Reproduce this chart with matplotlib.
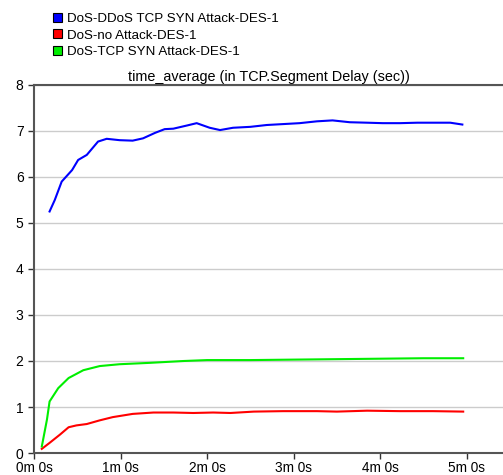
import matplotlib
matplotlib.use('Agg')
import matplotlib.pyplot as plt
from matplotlib.patches import Patch

plt.rcParams['font.family'] = ['Liberation Sans', 'DejaVu Sans']

# time in minutes, delay in seconds
ddos_t = [0.18, 0.24, 0.32, 0.44, 0.51, 0.61, 0.74, 0.84, 0.99, 1.14, 1.26, 1.40,
          1.51, 1.61, 1.77, 1.88, 2.03, 2.15, 2.30, 2.50, 2.69, 2.88, 3.07, 3.27,
          3.45, 3.65, 3.85, 4.03, 4.23, 4.43, 4.61, 4.81, 4.95]
ddos_v = [5.25, 5.5, 5.9, 6.15, 6.37, 6.48, 6.77, 6.83, 6.80, 6.79, 6.84, 6.96,
          7.04, 7.05, 7.12, 7.17, 7.07, 7.02, 7.07, 7.09, 7.13, 7.15, 7.17, 7.21,
          7.23, 7.19, 7.18, 7.17, 7.17, 7.18, 7.18, 7.18, 7.14]

noatk_t = [0.09, 0.18, 0.30, 0.40, 0.49, 0.61, 0.76, 0.91, 1.14, 1.38, 1.61, 1.84,
           2.07, 2.27, 2.54, 2.88, 3.27, 3.50, 3.85, 4.23, 4.61, 4.96]
noatk_v = [0.09, 0.22, 0.40, 0.56, 0.60, 0.63, 0.71, 0.78, 0.85, 0.88, 0.88, 0.87,
           0.88, 0.87, 0.90, 0.91, 0.91, 0.90, 0.92, 0.91, 0.91, 0.90]

syn_t = [0.09, 0.15, 0.18, 0.28, 0.40, 0.57, 0.76, 0.99, 1.34, 1.73, 2.0, 2.5,
         3.0, 3.5, 4.0, 4.5, 4.96]
syn_v = [0.14, 0.73, 1.12, 1.41, 1.63, 1.80, 1.89, 1.93, 1.96, 2.00, 2.02, 2.02,
         2.03, 2.04, 2.05, 2.06, 2.06]

labels = ['DoS-DDoS TCP SYN Attack-DES-1', 'DoS-no Attack-DES-1', 'DoS-TCP SYN Attack-DES-1']
colors = ['#0000ff', '#ff0000', '#00ee00']
x_ticks = [0, 1, 2, 3, 4, 5]
x_labels = ['0m 0s', '1m 0s', '2m 0s', '3m 0s', '4m 0s', '5m 0s']

fig = plt.figure(figsize=(5.03, 4.75), dpi=100)
ax = fig.add_axes([0.0676, 0.0463, 0.9324, 0.7748])

ax.plot(ddos_t, ddos_v, color=colors[0], lw=1.5)
ax.plot(noatk_t, noatk_v, color=colors[1], lw=1.5)
ax.plot(syn_t, syn_v, color=colors[2], lw=1.5)

ax.set_xlim(0, 5.42)
ax.set_ylim(0, 8)
ax.set_yticks(range(9))
ax.set_xticks(x_ticks)
ax.set_xticklabels(x_labels)
ax.tick_params(labelsize=10, colors='#333333', length=4, width=1, labelcolor='black')
ax.tick_params(axis='x', pad=1.5, labelsize=9.8)
ax.grid(axis='y', color='#cccccc', lw=1)
ax.set_axisbelow(True)

for s in ['left', 'bottom', 'top']:
    ax.spines[s].set_color('#555555')
    ax.spines[s].set_linewidth(1.5)
ax.spines['right'].set_visible(False)

ax.set_title('time_average (in TCP.Segment Delay (sec))', fontsize=10.4, pad=3)

handles = [Patch(facecolor=c, edgecolor='black', lw=0.8) for c in colors]
fig.legend(handles, labels, loc='upper left', bbox_to_anchor=(0.085, 0.995),
           frameon=False, fontsize=9.6, handlelength=0.65, handleheight=0.65,
           handletextpad=0.4, labelspacing=0.32, borderpad=0.3)

fig.savefig('out.png', dpi=100)
